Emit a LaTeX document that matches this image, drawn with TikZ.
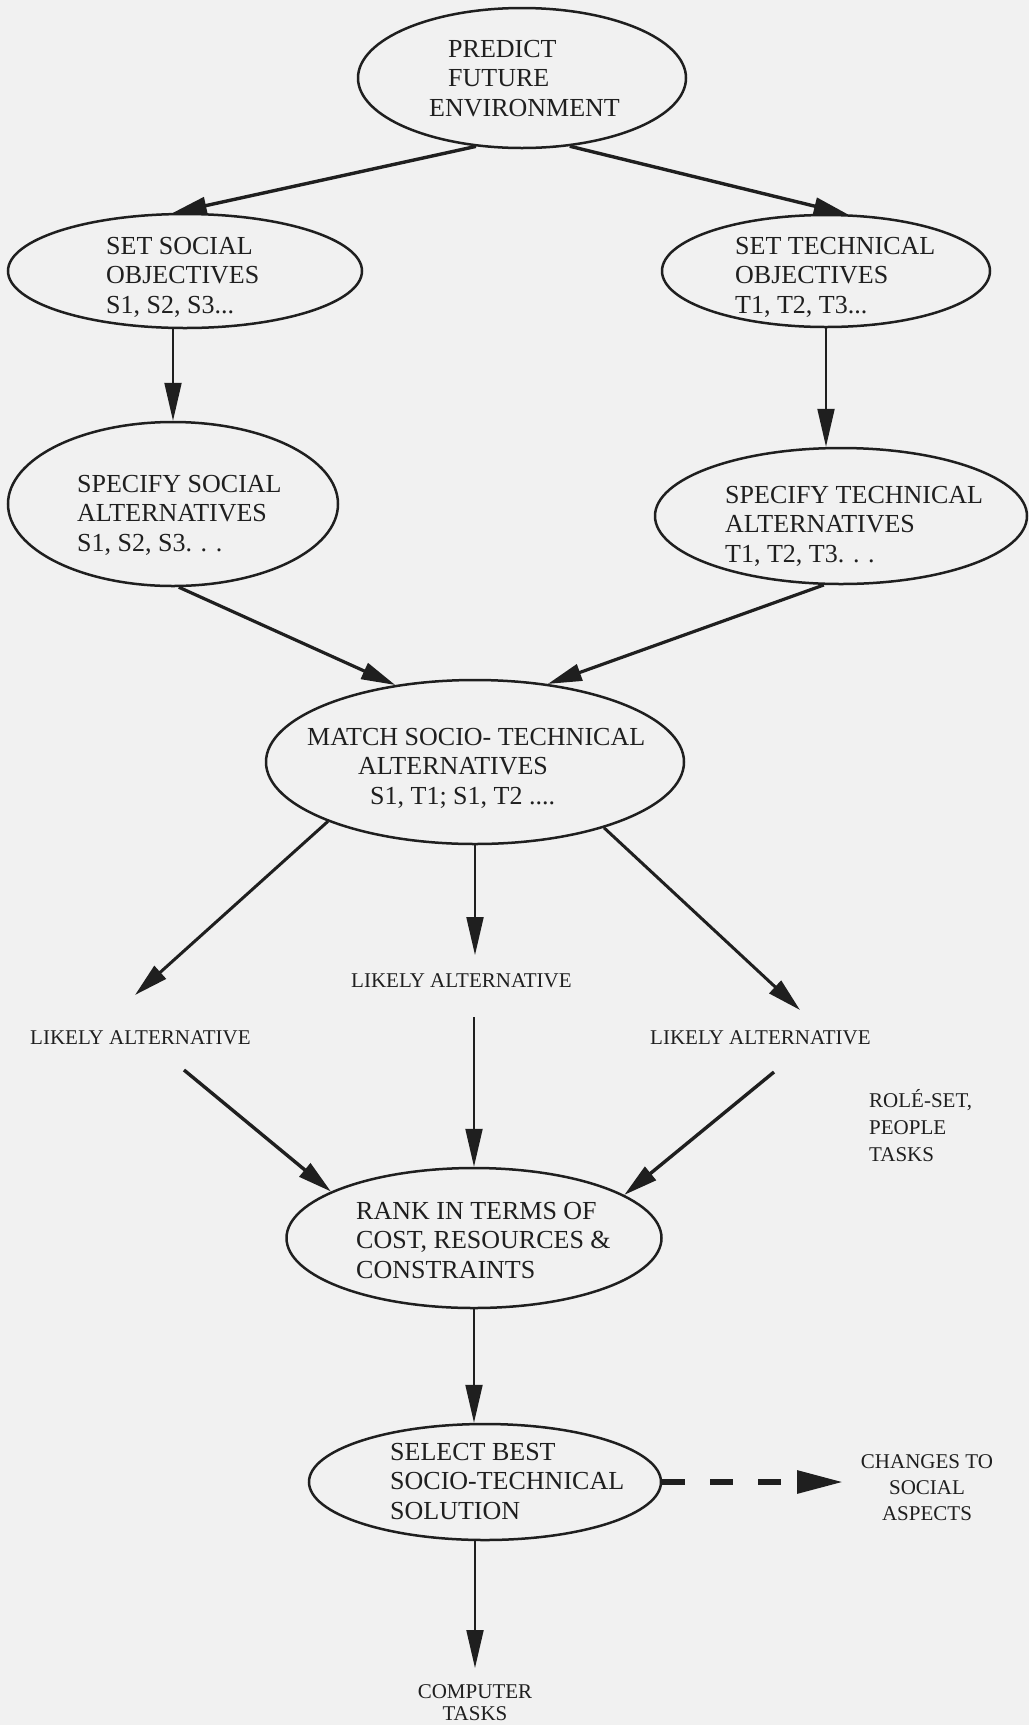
\documentclass[tikz,border=0pt]{standalone}
\usepackage{fontspec}
\setmainfont{Liberation Serif}
\usetikzlibrary{arrows.meta,shapes.geometric}
\definecolor{paper}{rgb}{0.945,0.945,0.945}
\definecolor{ink}{rgb}{0.12,0.12,0.12}
% stacked lines of a label; the first baseline is the box baseline
\newcommand{\txtrows}[2][l]{\begin{tabular}[t]{@{}#1@{}}#2\end{tabular}}

\begin{document}
\begin{tikzpicture}[x=1pt,y=-1pt,
  stage/.style={ellipse, draw=ink, line width=2.5pt, inner sep=0pt},
  big/.style={font=\fontsize{26}{29.5}\selectfont, text=ink, inner sep=0pt, anchor=base west},
  small/.style={font=\fontsize{21}{27}\selectfont, text=ink, inner sep=0pt},
  flow/.style={draw=ink, line width=3.4pt, -{Triangle[length=34pt,width=17pt]}},
  drop/.style={draw=ink, line width=2pt, -{Triangle[length=38pt,width=17pt]}},
  side/.style={draw=ink, line width=6pt, dash pattern=on 23pt off 25pt, -{Triangle[length=46pt,width=22pt]}},
]
\useasboundingbox (0,0) rectangle (1029,1725);
\fill[paper] (0,0) rectangle (1029,1725);
\clip (0,0) rectangle (1029,1725);

% stages
\node[stage, minimum width=328pt, minimum height=140pt] (predict)  at (522,78)   {};
\node[stage, minimum width=354pt, minimum height=114pt] (setsoc)   at (185,271)  {};
\node[stage, minimum width=328pt, minimum height=112pt] (settech)  at (826,271)  {};
\node[stage, minimum width=330pt, minimum height=164pt] (specsoc)  at (173,504)  {};
\node[stage, minimum width=372pt, minimum height=136pt] (spectech) at (841,516)  {};
\node[stage, minimum width=418pt, minimum height=164pt] (match)    at (475,762)  {};
\node[stage, minimum width=375pt, minimum height=140pt] (rank)     at (474,1238) {};
\node[stage, minimum width=352pt, minimum height=116pt] (select)   at (485,1482) {};

% stage texts
\node[big] (predictTxt)  at (448,57)   {\txtrows{PREDICT\\FUTURE\\\hspace*{-19pt}ENVIRONMENT}};
\node[big] (setsocTxt)   at (106,254)  {\txtrows{SET SOCIAL\\OBJECTIVES\\S1, S2, S3...}};
\node[big] (settechTxt)  at (735,254)  {\txtrows{SET TECHNICAL\\OBJECTIVES\\T1, T2, T3...}};
\node[big] (specsocTxt)  at (77,492)   {\txtrows{SPECIFY SOCIAL\\ALTERNATIVES\\S1, S2, S3. . .}};
\node[big] (spectechTxt) at (725,503)  {\txtrows{SPECIFY TECHNICAL\\ALTERNATIVES\\T1, T2, T3. . .}};
\node[big] (matchTxt)    at (307,745)  {\txtrows{MATCH SOCIO- TECHNICAL\\\hspace*{51pt}ALTERNATIVES\\\hspace*{63pt}S1, T1; S1, T2 ....}};
\node[big] (rankTxt)     at (356,1219) {\txtrows{RANK IN TERMS OF\\COST, RESOURCES \&\\CONSTRAINTS}};
\node[big] (selectTxt)   at (390,1460) {\txtrows{SELECT BEST\\SOCIO-TECHNICAL\\SOLUTION}};

% free labels
\node[small, anchor=base west] (likelyL) at (30,1044)  {LIKELY ALTERNATIVE};
\node[small, anchor=base west] (likelyM) at (351,987)  {LIKELY ALTERNATIVE};
\node[small, anchor=base west] (likelyR) at (650,1044) {LIKELY ALTERNATIVE};
\node[small, anchor=base west] (roles)   at (869,1107) {\txtrows{ROLÉ-SET,\\PEOPLE\\TASKS}};
\node[small, anchor=base, font=\fontsize{21}{26}\selectfont] (changes) at (927,1468) {\txtrows[c]{CHANGES TO\\SOCIAL\\ASPECTS}};
\node[small, anchor=base, font=\fontsize{21}{22}\selectfont] (computer) at (475,1698) {\txtrows[c]{COMPUTER\\TASKS}};

% connectors
\draw[flow] (predict.236) -- (setsoc.102);
\draw[flow] (predict.305) -- (settech.69);
\draw[drop] (specsoc.north |- setsoc.south) -- (specsoc.north);
\draw[drop] (settech.south) -- (settech.south |- spectech.north);
\draw[flow, line width=3.2pt] (specsoc.274) -- (match.136);
\draw[flow, line width=3.2pt] (spectech.256) -- (match.47);
\draw[flow, line width=3pt] (match.202) -- ([shift={(105,-49)}]likelyL.base west);
\draw[drop] (match.south) -- ([shift={(124,-32)}]likelyM.base west);
\draw[flow, line width=3pt] (match.333) -- ([shift={(150,-34)}]likelyR.base west);
\draw[flow] ([shift={(154,26)}]likelyL.base west) -- (rank.162);
\draw[drop] ([shift={(123,30)}]likelyM.base west) -- (rank.north);
\draw[flow] ([shift={(124,28)}]likelyR.base west) -- (rank.16);
\draw[drop] (rank.south) -- (rank.south |- select.north);
\draw[side] (select.east) -- ([shift={(-84,14)}]changes.base);
\draw[drop] (computer.base |- select.south) -- ([yshift=30pt]computer.base);
\end{tikzpicture}
\end{document}
